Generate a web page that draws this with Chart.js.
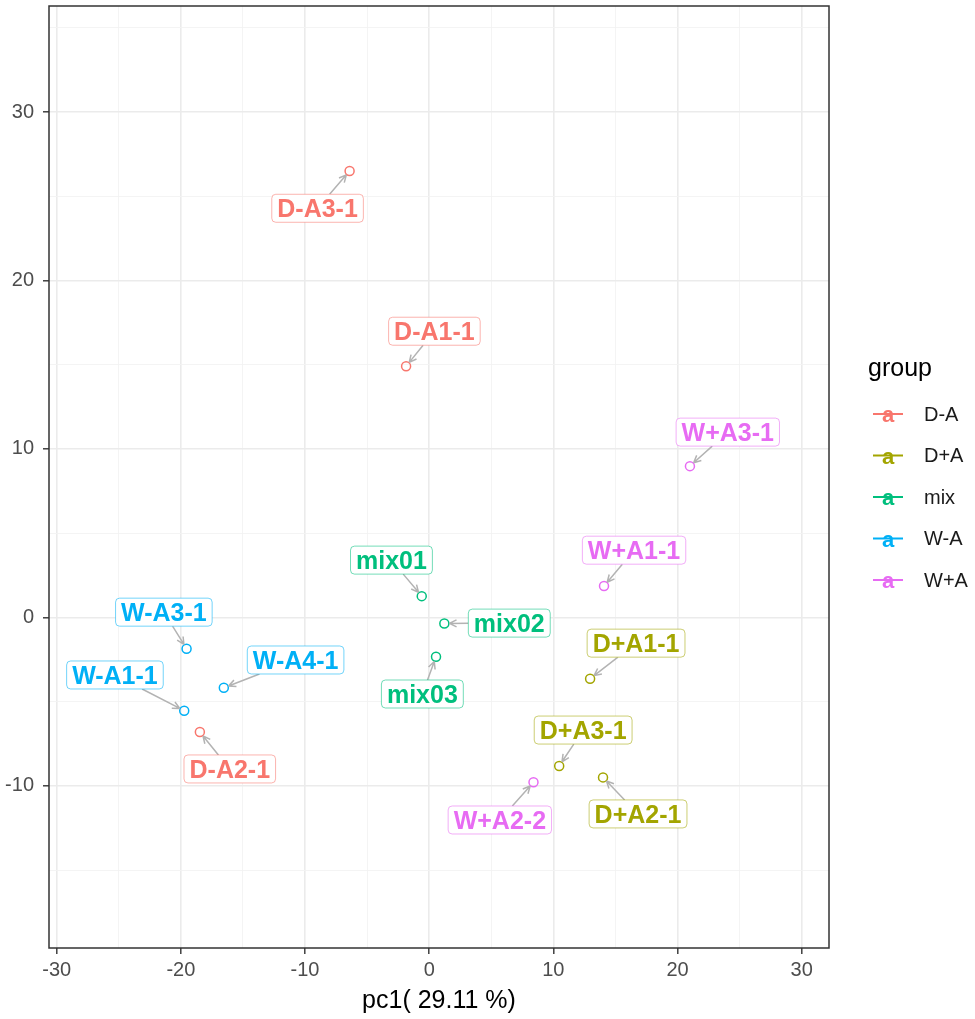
<!DOCTYPE html>
<html>
<head>
<meta charset="utf-8">
<script src="https://cdn.jsdelivr.net/npm/chart.js@4.4.1/dist/chart.umd.min.js"></script>
<style>
  html, body { margin: 0; padding: 0; background: #fff; }
  #wrap { width: 975px; height: 1019px; position: relative; }
</style>
</head>
<body>
<div id="wrap"><canvas id="pcaChart"></canvas></div>
<script>
const groups = ['D-A', 'D+A', 'mix', 'W-A', 'W+A'];
const groupColors = ['#F8766D', '#A3A500', '#00BF7D', '#00B0F6', '#E76BF3'];

const samples = ['D-A3-1', 'D-A1-1', 'D-A2-1', 'D+A1-1', 'D+A3-1', 'D+A2-1', 'mix01', 'mix02', 'mix03',
                 'W-A3-1', 'W-A4-1', 'W-A1-1', 'W+A3-1', 'W+A1-1', 'W+A2-2'];
const sampleGroup = ['D-A', 'D-A', 'D-A', 'D+A', 'D+A', 'D+A', 'mix', 'mix', 'mix',
                     'W-A', 'W-A', 'W-A', 'W+A', 'W+A', 'W+A'];
const pc1 = [-6.41, -1.86, -18.47, 12.96, 10.47, 14.0, -0.6, 1.22, 0.55, -19.54, -16.54, -19.73, 21.0, 14.08, 8.4];
const pc2 = [26.5, 14.91, -6.81, -3.64, -8.82, -9.5, 1.26, -0.36, -2.34, -1.86, -4.18, -5.54, 8.98, 1.86, -9.79];

const xTitle = 'pc1( 29.11 %)';
const legendTitle = 'group';

// where the repelled labels ended up (data units, centre of the box)
const labelAt = {
  'D-A3-1': [-8.99, 24.29], 'D-A1-1': [0.42, 16.99], 'D-A2-1': [-16.06, -9.0],
  'D+A1-1': [16.66, -1.53], 'D+A3-1': [12.40, -6.69], 'D+A2-1': [16.82, -11.67],
  'mix01': [-3.04, 3.40], 'mix02': [6.45, -0.34], 'mix03': [-0.55, -4.55],
  'W-A3-1': [-21.37, 0.31], 'W-A4-1': [-10.76, -2.53], 'W-A1-1': [-25.31, -3.42],
  'W+A3-1': [24.05, 11.0], 'W+A1-1': [16.5, 3.99], 'W+A2-2': [5.69, -12.03]
};

const FONT = '"Liberation Sans", Arial, Helvetica, sans-serif';

const datasets = groups.map((g, gi) => ({
  label: g,
  data: samples.map((s, i) => ({ x: pc1[i], y: pc2[i], name: s, g: sampleGroup[i] })).filter(p => p.g === g),
  borderColor: groupColors[gi],
  backgroundColor: 'rgba(0,0,0,0)',
  pointRadius: 4.5,
  pointBorderWidth: 1.5,
  pointHoverRadius: 4.5
}));

const isMajor = v => Math.abs(v % 10) < 1e-9;

const gridOpts = {
  color: c => isMajor(c.tick.value) ? '#ebebeb' : '#f3f3f3',
  lineWidth: c => isMajor(c.tick.value) ? 1.6 : 0.9,
  tickColor: c => isMajor(c.tick.value) ? '#333333' : 'rgba(0,0,0,0)',
  tickLength: 6,
  tickWidth: 1.4
};

const repelLabels = {
  id: 'repelLabels',
  afterDatasetsDraw(chart) {
    const { ctx, chartArea: a, scales: { x, y } } = chart;
    ctx.save();
    // panel border
    ctx.strokeStyle = '#333333';
    ctx.lineWidth = 1.5;
    ctx.strokeRect(a.left, a.top, a.right - a.left, a.bottom - a.top);

    ctx.font = 'bold 25px ' + FONT;
    const boxes = samples.map((s, i) => {
      const col = groupColors[groups.indexOf(sampleGroup[i])];
      const px = x.getPixelForValue(pc1[i]), py = y.getPixelForValue(pc2[i]);
      const cx = x.getPixelForValue(labelAt[s][0]), cy = y.getPixelForValue(labelAt[s][1]);
      const w = ctx.measureText(s).width + 11, h = 28;
      return { s, col, px, py, cx, cy, w, h };
    });

    // segments with arrow heads
    ctx.strokeStyle = '#b3b3b3';
    ctx.lineWidth = 1.5;
    boxes.forEach(b => {
      const dx = b.px - b.cx, dy = b.py - b.cy;
      const t = Math.min(dx ? (b.w / 2) / Math.abs(dx) : Infinity, dy ? (b.h / 2) / Math.abs(dy) : Infinity);
      const sx = b.cx + dx * t, sy = b.cy + dy * t;
      const len = Math.hypot(b.px - sx, b.py - sy);
      if (len < 8) return;
      const ux = (b.px - sx) / len, uy = (b.py - sy) / len;
      const ex = b.px - ux * 5, ey = b.py - uy * 5;
      ctx.beginPath();
      ctx.moveTo(sx, sy);
      ctx.lineTo(ex, ey);
      const ang = Math.atan2(uy, ux);
      [0.45, -0.45].forEach(o => {
        ctx.moveTo(ex, ey);
        ctx.lineTo(ex - 8 * Math.cos(ang + o), ey - 8 * Math.sin(ang + o));
      });
      ctx.stroke();
    });

    // label boxes
    boxes.forEach(b => {
      const lx = b.cx - b.w / 2, ly = b.cy - b.h / 2;
      ctx.beginPath();
      ctx.roundRect(lx, ly, b.w, b.h, 4);
      ctx.fillStyle = '#ffffff';
      ctx.fill();
      ctx.globalAlpha = 0.55;
      ctx.strokeStyle = b.col;
      ctx.lineWidth = 1;
      ctx.stroke();
      ctx.globalAlpha = 1;
      ctx.fillStyle = b.col;
      ctx.textAlign = 'center';
      ctx.textBaseline = 'alphabetic';
      ctx.fillText(b.s, b.cx, b.cy + 9);
    });

    // legend
    const midY = (a.top + a.bottom) / 2;
    const x0 = a.right + 39;
    ctx.fillStyle = '#000000';
    ctx.textAlign = 'left';
    ctx.textBaseline = 'middle';
    ctx.font = '25px ' + FONT;
    ctx.fillText(legendTitle, x0, midY - 108);
    groups.forEach((g, gi) => {
      const ry = midY - 62 + gi * 41.5;
      ctx.strokeStyle = groupColors[gi];
      ctx.lineWidth = 2;
      ctx.beginPath();
      ctx.moveTo(x0 + 5, ry - 1);
      ctx.lineTo(x0 + 35, ry - 1);
      ctx.stroke();
      ctx.fillStyle = groupColors[gi];
      ctx.textAlign = 'center';
      ctx.textBaseline = 'alphabetic';
      ctx.font = 'bold 22px ' + FONT;
      ctx.fillText('a', x0 + 20, ry + 7);
      ctx.fillStyle = '#1a1a1a';
      ctx.textAlign = 'left';
      ctx.textBaseline = 'middle';
      ctx.font = '20px ' + FONT;
      ctx.fillText(g, x0 + 56, ry);
    });
    ctx.restore();
  }
};

new Chart(document.getElementById('pcaChart'), {
  type: 'scatter',
  data: { datasets },
  options: {
    responsive: true,
    maintainAspectRatio: false,
    animation: false,
    layout: { padding: { top: 5, right: 146, left: 0, bottom: 0 } },
    plugins: { legend: { display: false }, tooltip: { enabled: false } },
    scales: {
      x: {
        type: 'linear',
        min: -30.62, max: 32.2,
        afterFit: s => { s.height = 71; s.paddingLeft = 0; s.paddingRight = 0; },
        border: { display: false },
        grid: gridOpts,
        ticks: {
          stepSize: 5, includeBounds: false, autoSkip: false, maxRotation: 0, padding: 4,
          color: '#4d4d4d', font: { family: FONT, size: 20 },
          callback: v => isMajor(v) ? String(v) : ''
        },
        title: { display: true, text: xTitle, color: '#000000', font: { family: FONT, size: 25 }, padding: { top: 0, bottom: 3 } }
      },
      y: {
        type: 'linear',
        min: -19.63, max: 36.3,
        afterFit: s => { s.width = 49; s.paddingTop = 0; s.paddingBottom = 0; },
        border: { display: false },
        grid: gridOpts,
        ticks: {
          stepSize: 5, includeBounds: false, autoSkip: false, padding: 9,
          color: '#4d4d4d', font: { family: FONT, size: 20 },
          callback: v => isMajor(v) ? String(v) : ''
        }
      }
    }
  },
  plugins: [repelLabels]
});
</script>
</body>
</html>
